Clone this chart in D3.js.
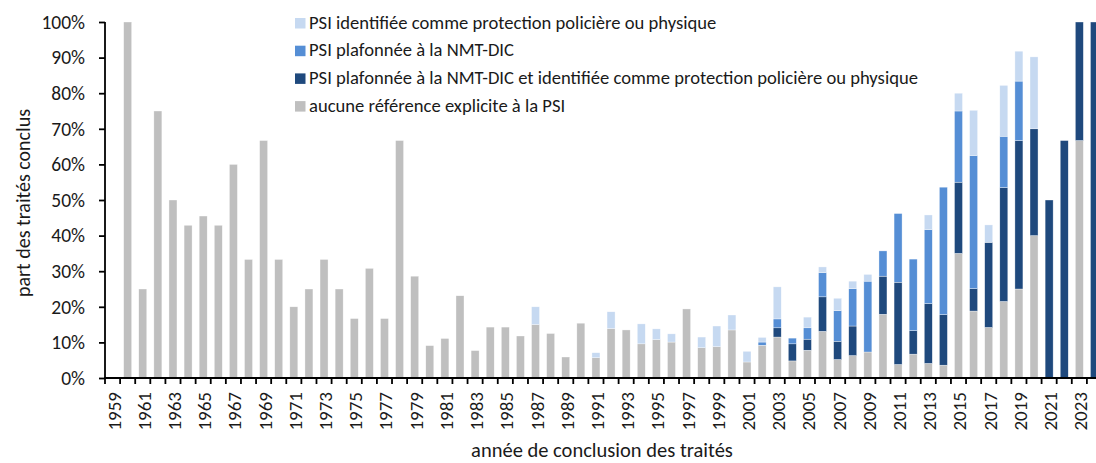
<!DOCTYPE html>
<html>
<head>
<meta charset="utf-8">
<script src="https://cdn.jsdelivr.net/npm/d3@7"></script>
<style>
  body { margin: 0; background: #fff; }
  text { font-family: Carlito, Lato, sans-serif; fill: #1a1a1a; }
</style>
</head>
<body>
<div id="chart"></div>
<script>
// years of conclusion
var years = [1959,1960,1961,1962,1963,1964,1965,1966,1967,1968,1969,1970,1971,1972,1973,1974,1975,1976,1977,1978,1979,
  1980,1981,1982,1983,1984,1985,1986,1987,1988,1989,1990,1991,1992,1993,1994,1995,1996,1997,1998,1999,
  2000,2001,2002,2003,2004,2005,2006,2007,2008,2009,2010,2011,2012,2013,2014,2015,2016,2017,2018,2019,
  2020,2021,2022,2023,2024];

// aucune référence explicite à la PSI (%)
var aucune = [0,100,25,75,50,42.9,45.5,42.9,60,33.3,66.7,33.3,20,25,33.3,25,16.7,30.8,16.7,66.7,28.6,
  9.1,11.1,23.1,7.7,14.3,14.3,11.8,15,12.5,5.9,15.4,5.7,13.9,13.5,9.6,10.8,10.1,19.4,8.5,8.8,
  13.5,4.5,9.2,11.5,4.8,7.8,13.1,5.2,6.3,7.3,17.9,3.8,6.7,4.1,3.6,35,18.8,14.2,21.5,25,
  40,0,0,66.7,0];

// PSI plafonnée à la NMT-DIC et identifiée comme protection policière ou physique
var plafIdent = [0,0,0,0,0,0,0,0,0,0,0,0,0,0,0,0,0,0,0,0,0,
  0,0,0,0,0,0,0,0,0,0,0,0,0,0,0,0,0,0,0,0,
  0,0,0,2.6,4.8,3.1,9.7,5.1,8.3,0,10.7,23.1,6.6,16.8,14.2,20,6.3,23.9,32,41.7,
  30,50,66.7,33.3,100];

// PSI plafonnée à la NMT-DIC
var plafonnee = [0,0,0,0,0,0,0,0,0,0,0,0,0,0,0,0,0,0,0,0,0,
  0,0,0,0,0,0,0,0,0,0,0,0,0,0,0,0,0,0,0,0,
  0,0,0.9,2.5,1.6,3.2,6.8,8.6,10.5,19.9,7.1,19.3,20.1,20.8,35.8,20,37.4,0,14.4,16.7,
  0,0,0,0,0];

// PSI identifiée comme protection policière ou physique
var identifiee = [0,0,0,0,0,0,0,0,0,0,0,0,0,0,0,0,0,0,0,0,0,
  0,0,0,0,0,0,0,5,0,0,0,1.4,4.7,0,5.6,3,2.3,0,3,5.8,
  4.2,3,1.3,9,0,3,1.6,3.5,2.1,1.9,0,0,0,4.1,0,5,12.7,4.9,14.3,8.4,
  20.2,0,0,0,0];

var seriesNames = [
  "aucune référence explicite à la PSI",
  "PSI plafonnée à la NMT-DIC et identifiée comme protection policière ou physique",
  "PSI plafonnée à la NMT-DIC",
  "PSI identifiée comme protection policière ou physique"
];
var seriesKeys = ["aucune", "plafIdent", "plafonnee", "identifiee"];
var colors = ["#BFBFBF", "#1F497D", "#558ED5", "#C6D9F1"];
var yTicks = [0,10,20,30,40,50,60,70,80,90,100];

var rows = years.map(function(y, i) {
  return {year: y, aucune: aucune[i], plafIdent: plafIdent[i], plafonnee: plafonnee[i], identifiee: identifiee[i]};
});

var width = 1096, height = 463;
var svg = d3.select("#chart").append("svg")
  .attr("width", width)
  .attr("height", height);

var x = d3.scaleBand()
  .domain(years)
  .range([105, 1102])
  .paddingInner(0.47)
  .paddingOuter(0.235);

var y = d3.scaleLinear()
  .domain([0, 100])
  .range([378, 22]);

var stack = d3.stack().keys(seriesKeys);
var stacked = stack(rows);

// bars
svg.append("g")
  .selectAll("g")
  .data(stacked)
  .enter().append("g")
    .attr("fill", function(d, i) { return colors[i]; })
  .selectAll("rect")
  .data(function(d) { return d; })
  .enter().append("rect")
    .attr("x", function(d) { return x(d.data.year); })
    .attr("y", function(d) { return y(d[1]); })
    .attr("width", x.bandwidth())
    .attr("height", function(d) { return Math.max(0, y(d[0]) - y(d[1])); })
    .attr("stroke", "#fff")
    .attr("stroke-width", 0.5)
    .attr("stroke-opacity", function(d) { return d[1] > d[0] ? 0.7 : 0; });

// Y axis
var yAxis = svg.append("g")
  .attr("transform", "translate(105,0)")
  .call(d3.axisLeft(y).tickValues(yTicks).tickSize(6).tickPadding(14)
    .tickFormat(function(d) { return d + "%"; }));
yAxis.selectAll("text").style("font-size", "19.5px");
yAxis.selectAll("line, path").attr("stroke", "#000").attr("stroke-width", 1.8);
yAxis.select(".domain").attr("d", "M0," + y(100) + "V" + y(0));

// X axis: tick marks between categories, labels on odd years
var step = x.step();
var x0 = x.range()[0];
var tickPos = d3.range(years.length + 1).map(function(i) { return x0 + i * step; });

svg.append("line")
  .attr("x1", 104).attr("x2", width)
  .attr("y1", y(0)).attr("y2", y(0))
  .attr("stroke", "#000").attr("stroke-width", 1.8);

svg.append("g")
  .selectAll("line")
  .data(tickPos)
  .enter().append("line")
    .attr("x1", function(d) { return d; })
    .attr("x2", function(d) { return d; })
    .attr("y1", y(0))
    .attr("y2", y(0) + 6)
    .attr("stroke", "#000")
    .attr("stroke-width", 1.8);

svg.append("g")
  .selectAll("text")
  .data(years.filter(function(d) { return d % 2 === 1; }))
  .enter().append("text")
    .attr("transform", function(d) {
      return "translate(" + (x(d) + x.bandwidth() / 2 + 8) + "," + 392 + ") rotate(-90)";
    })
    .attr("text-anchor", "end")
    .style("font-size", "19px")
    .text(function(d) { return d; });

// axis titles
svg.append("text")
  .attr("transform", "translate(" + 30 + "," + 203 + ") rotate(-90)")
  .attr("text-anchor", "middle")
  .style("font-size", "20px")
  .text("part des traités conclus");

svg.append("text")
  .attr("x", 602)
  .attr("y", 457)
  .attr("text-anchor", "middle")
  .style("font-size", "20.5px")
  .text("année de conclusion des traités");

// legend (top to bottom, reverse stack order)
var legendOrder = [3, 2, 1, 0];
var legend = svg.append("g")
  .selectAll("g")
  .data(legendOrder)
  .enter().append("g")
    .attr("transform", function(d, i) { return "translate(295," + (18 + i * 27.7) + ")"; });

legend.append("rect")
  .attr("width", 10.5)
  .attr("height", 10.5)
  .attr("fill", function(d) { return colors[d]; });

legend.append("text")
  .attr("x", 14)
  .attr("y", 10.5)
  .style("font-size", "18.6px")
  .text(function(d) { return seriesNames[d]; });
</script>
</body>
</html>
